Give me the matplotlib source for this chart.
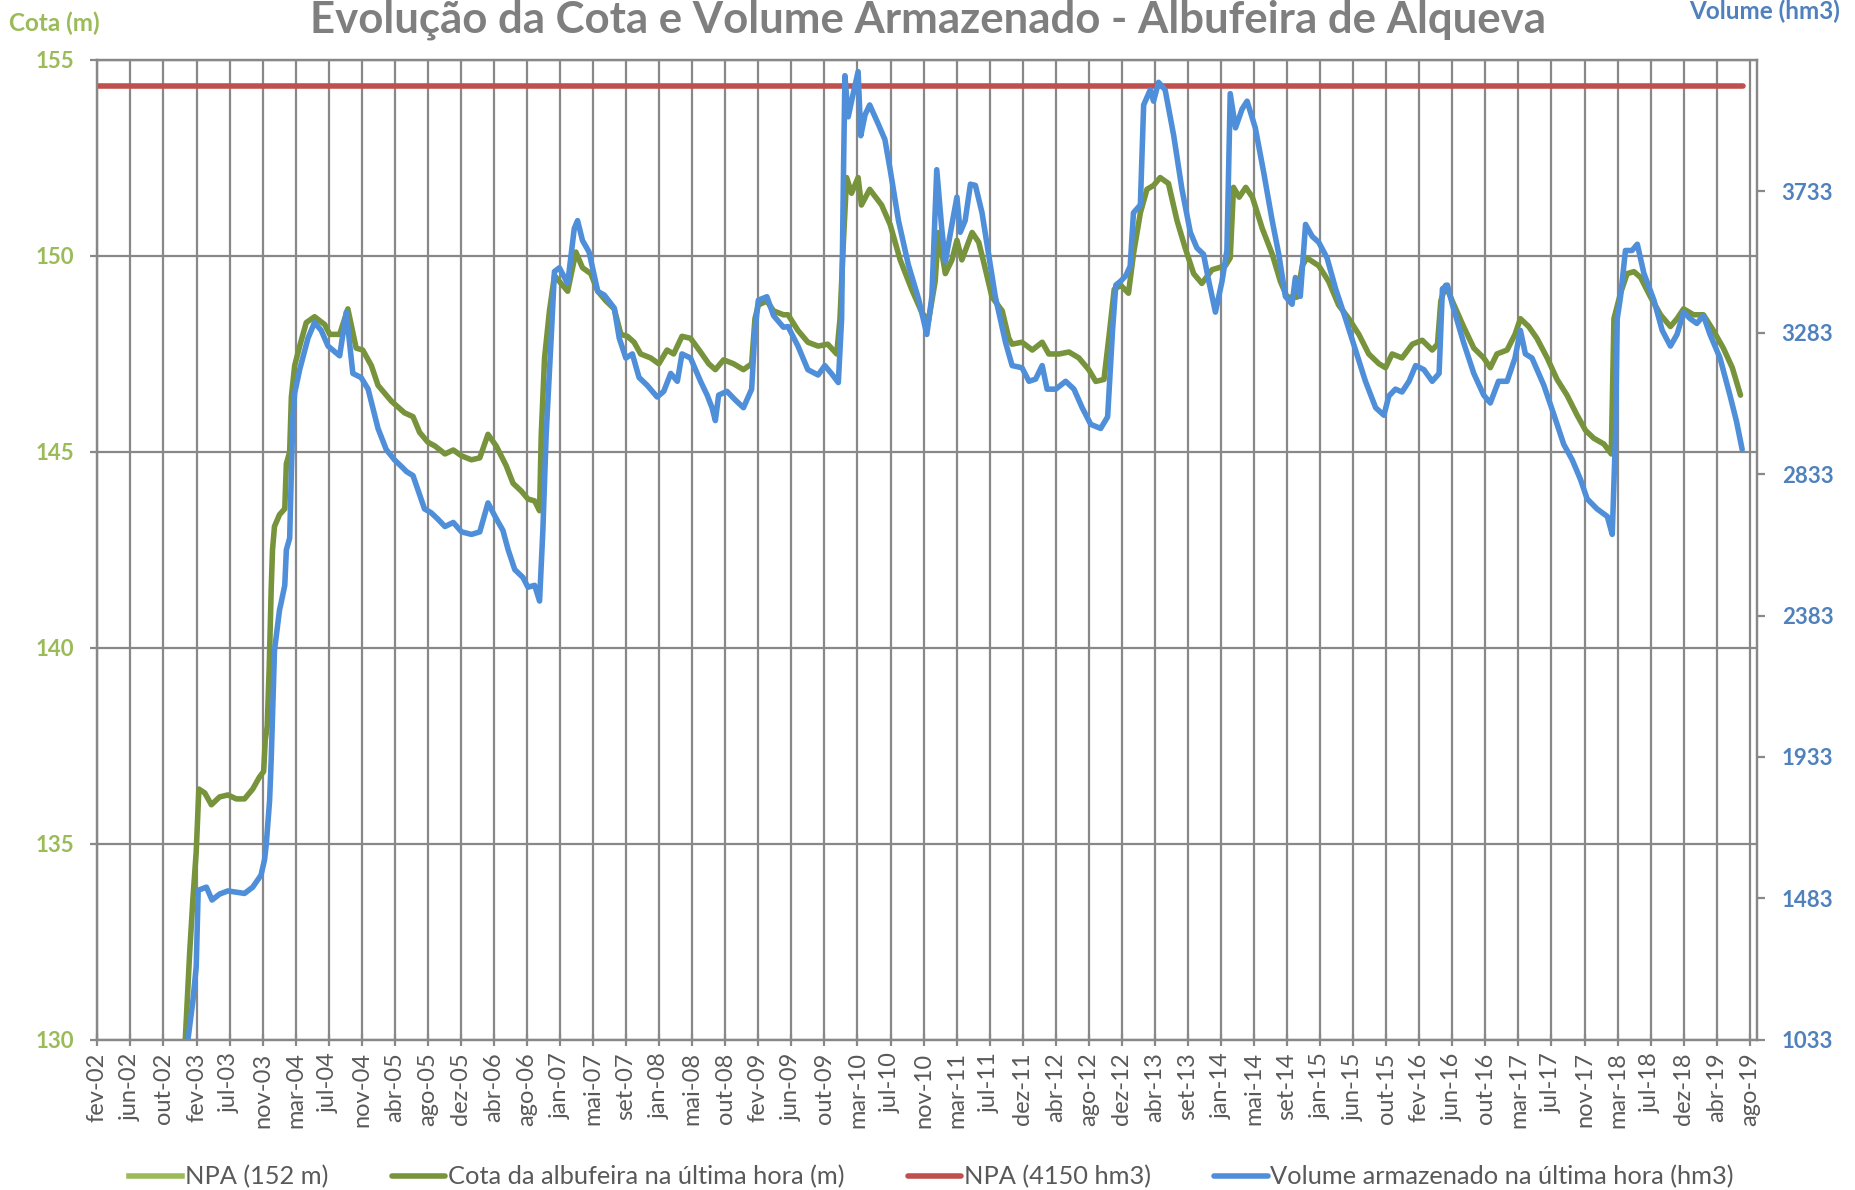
import matplotlib.pyplot as plt

# x values in decimal years (first record 2002-02-08; axis marks every 128 days)
tick_labels = ['fev-02', 'jun-02', 'out-02', 'fev-03', 'jul-03', 'nov-03', 'mar-04', 'jul-04',
               'nov-04', 'abr-05', 'ago-05', 'dez-05', 'abr-06', 'ago-06', 'jan-07', 'mai-07',
               'set-07', 'jan-08', 'mai-08', 'out-08', 'fev-09', 'jun-09', 'out-09', 'mar-10',
               'jul-10', 'nov-10', 'mar-11', 'jul-11', 'dez-11', 'abr-12', 'ago-12', 'dez-12',
               'abr-13', 'set-13', 'jan-14', 'mai-14', 'set-14', 'jan-15', 'jun-15', 'out-15',
               'fev-16', 'jun-16', 'out-16', 'mar-17', 'jul-17', 'nov-17', 'mar-18', 'jul-18',
               'dez-18', 'abr-19', 'ago-19']
tick_start = 2002.104
tick_step = 128 / 365.25

cota_x = [2003.036, 2003.082, 2003.117, 2003.152, 2003.180, 2003.243, 2003.313, 2003.400, 2003.488,
          2003.576, 2003.664, 2003.751, 2003.821, 2003.867, 2003.884, 2003.905, 2003.926, 2003.947,
          2003.961, 2003.982, 2004.035, 2004.091, 2004.108, 2004.143, 2004.161, 2004.196, 2004.249,
          2004.319, 2004.407, 2004.515, 2004.568, 2004.673, 2004.760, 2004.848, 2004.918, 2005.010,
          2005.080, 2005.220, 2005.360, 2005.451, 2005.521, 2005.608, 2005.685, 2005.790, 2005.878,
          2005.966, 2006.071, 2006.159, 2006.246, 2006.334, 2006.439, 2006.512, 2006.600, 2006.670,
          2006.741, 2006.793, 2006.811, 2006.846, 2006.898, 2006.951, 2007.021, 2007.091, 2007.178,
          2007.248, 2007.336, 2007.410, 2007.498, 2007.585, 2007.655, 2007.725, 2007.795, 2007.865,
          2007.970, 2008.058, 2008.145, 2008.215, 2008.303, 2008.394, 2008.500, 2008.587, 2008.657,
          2008.745, 2008.850, 2008.955, 2009.042, 2009.077, 2009.113, 2009.204, 2009.274, 2009.379,
          2009.428, 2009.533, 2009.638, 2009.747, 2009.849, 2009.944, 2009.979, 2010.014, 2010.049,
          2010.101, 2010.171, 2010.206, 2010.294, 2010.420, 2010.511, 2010.617, 2010.739, 2010.848,
          2010.918, 2010.988, 2011.023, 2011.096, 2011.166, 2011.219, 2011.271, 2011.380, 2011.450,
          2011.502, 2011.591, 2011.699, 2011.769, 2011.804, 2011.909, 2012.018, 2012.123, 2012.193,
          2012.302, 2012.407, 2012.512, 2012.617, 2012.691, 2012.778, 2012.834, 2012.887, 2012.957,
          2013.038, 2013.091, 2013.164, 2013.234, 2013.304, 2013.374, 2013.462, 2013.553, 2013.640,
          2013.729, 2013.816, 2013.925, 2014.065, 2014.117, 2014.152, 2014.212, 2014.282, 2014.352,
          2014.457, 2014.562, 2014.649, 2014.720, 2014.825, 2014.881, 2014.930, 2015.056, 2015.161,
          2015.266, 2015.375, 2015.481, 2015.586, 2015.694, 2015.764, 2015.834, 2015.939, 2016.048,
          2016.153, 2016.259, 2016.315, 2016.350, 2016.402, 2016.472, 2016.591, 2016.700, 2016.805,
          2016.875, 2016.945, 2017.053, 2017.137, 2017.194, 2017.282, 2017.369, 2017.478, 2017.583,
          2017.688, 2017.793, 2017.885, 2017.972, 2018.081, 2018.158, 2018.186, 2018.256, 2018.326,
          2018.399, 2018.469, 2018.575, 2018.680, 2018.785, 2018.855, 2018.925, 2019.030, 2019.135,
          2019.240, 2019.346, 2019.441, 2019.528]
cota_m = [130.0, 132.2, 133.6, 134.8, 136.4, 136.3, 136.0, 136.2, 136.25,
          136.15, 136.15, 136.4, 136.7, 136.85, 137.65, 138.0, 139.5, 141.5,
          142.5, 143.1, 143.4, 143.55, 144.7, 145.0, 146.4, 147.2, 147.7,
          148.3, 148.45, 148.25, 148.0, 148.0, 148.65, 147.65, 147.6, 147.2,
          146.7, 146.3, 146.0, 145.9, 145.5, 145.25, 145.15, 144.95, 145.05,
          144.9, 144.8, 144.85, 145.45, 145.15, 144.65, 144.2, 144.0, 143.8,
          143.75, 143.5, 145.45, 147.4, 148.6, 149.5, 149.3, 149.1, 150.1,
          149.7, 149.55, 149.1, 148.85, 148.65, 148.0, 147.95, 147.8, 147.5,
          147.4, 147.25, 147.6, 147.5, 147.95, 147.9, 147.55, 147.25, 147.1,
          147.35, 147.25, 147.1, 147.25, 148.4, 148.75, 148.85, 148.6, 148.5,
          148.5, 148.1, 147.8, 147.7, 147.75, 147.5, 148.4, 150.3, 152.0,
          151.6, 152.0, 151.3, 151.7, 151.3, 150.8, 149.9, 149.15, 148.55,
          148.35, 149.35, 150.6, 149.55, 149.9, 150.4, 149.9, 150.6, 150.35,
          149.85, 148.95, 148.6, 147.9, 147.75, 147.8, 147.6, 147.8, 147.5,
          147.5, 147.55, 147.4, 147.1, 146.8, 146.85, 148.0, 149.15, 149.25,
          149.05, 150.05, 151.1, 151.7, 151.8, 152.0, 151.85, 150.9, 150.2,
          149.55, 149.3, 149.65, 149.75, 149.95, 151.75, 151.5, 151.75, 151.5,
          150.7, 150.05, 149.35, 148.95, 148.95, 149.75, 149.95, 149.75, 149.35,
          148.75, 148.4, 148.0, 147.5, 147.25, 147.15, 147.5, 147.4, 147.75,
          147.85, 147.6, 147.75, 148.85, 149.25, 148.85, 148.2, 147.65, 147.4,
          147.15, 147.5, 147.6, 148.0, 148.4, 148.2, 147.9, 147.4, 146.85,
          146.45, 145.95, 145.55, 145.35, 145.2, 144.95, 148.4, 149.05, 149.55,
          149.6, 149.45, 148.95, 148.5, 148.2, 148.4, 148.65, 148.5, 148.5,
          148.1, 147.65, 147.15, 146.45]

vol_x = [2003.064, 2003.117, 2003.152, 2003.173, 2003.260, 2003.320, 2003.400, 2003.488, 2003.664,
         2003.751, 2003.839, 2003.877, 2003.895, 2003.930, 2003.947, 2003.982, 2004.035, 2004.052,
         2004.091, 2004.108, 2004.143, 2004.161, 2004.178, 2004.196, 2004.249, 2004.337, 2004.407,
         2004.477, 2004.550, 2004.673, 2004.743, 2004.813, 2004.900, 2004.975, 2005.080, 2005.167,
         2005.255, 2005.342, 2005.381, 2005.451, 2005.573, 2005.643, 2005.713, 2005.790, 2005.878,
         2005.966, 2006.071, 2006.159, 2006.246, 2006.334, 2006.404, 2006.460, 2006.530, 2006.617,
         2006.670, 2006.741, 2006.793, 2006.828, 2006.863, 2006.916, 2006.951, 2007.003, 2007.091,
         2007.161, 2007.196, 2007.248, 2007.318, 2007.410, 2007.480, 2007.585, 2007.638, 2007.708,
         2007.777, 2007.848, 2007.935, 2008.040, 2008.110, 2008.184, 2008.254, 2008.303, 2008.394,
         2008.500, 2008.570, 2008.622, 2008.657, 2008.692, 2008.780, 2008.867, 2008.955, 2009.042,
         2009.077, 2009.113, 2009.204, 2009.274, 2009.379, 2009.428, 2009.533, 2009.638, 2009.747,
         2009.818, 2009.887, 2009.961, 2009.996, 2010.014, 2010.031, 2010.066, 2010.119, 2010.171,
         2010.199, 2010.245, 2010.294, 2010.385, 2010.455, 2010.511, 2010.599, 2010.704, 2010.813,
         2010.900, 2010.953, 2011.005, 2011.058, 2011.096, 2011.166, 2011.219, 2011.254, 2011.306,
         2011.362, 2011.415, 2011.485, 2011.555, 2011.626, 2011.734, 2011.804, 2011.909, 2011.983,
         2012.053, 2012.123, 2012.175, 2012.267, 2012.372, 2012.460, 2012.547, 2012.638, 2012.743,
         2012.817, 2012.834, 2012.869, 2012.904, 2012.957, 2013.010, 2013.056, 2013.091, 2013.164,
         2013.199, 2013.269, 2013.304, 2013.357, 2013.427, 2013.518, 2013.605, 2013.694, 2013.764,
         2013.834, 2013.890, 2013.960, 2014.030, 2014.082, 2014.117, 2014.173, 2014.243, 2014.296,
         2014.383, 2014.474, 2014.562, 2014.632, 2014.702, 2014.773, 2014.808, 2014.860, 2014.916,
         2014.986, 2015.056, 2015.144, 2015.235, 2015.340, 2015.446, 2015.551, 2015.659, 2015.747,
         2015.799, 2015.869, 2015.939, 2016.013, 2016.083, 2016.171, 2016.259, 2016.332, 2016.367,
         2016.420, 2016.472, 2016.591, 2016.700, 2016.805, 2016.875, 2016.962, 2017.053, 2017.137,
         2017.194, 2017.247, 2017.317, 2017.443, 2017.548, 2017.653, 2017.744, 2017.831, 2017.902,
         2018.007, 2018.116, 2018.168, 2018.203, 2018.221, 2018.256, 2018.308, 2018.378, 2018.434,
         2018.504, 2018.610, 2018.698, 2018.785, 2018.855, 2018.925, 2018.995, 2019.065, 2019.135,
         2019.205, 2019.311, 2019.416, 2019.486, 2019.546]
vol_hm3 = [1033, 1158, 1266, 1509, 1519, 1478, 1497, 1507, 1499,
           1519, 1557, 1607, 1656, 1794, 1923, 2272, 2400, 2423,
           2479, 2592, 2629, 2841, 3015, 3090, 3165, 3265, 3315,
           3290, 3240, 3209, 3348, 3153, 3140, 3103, 2978, 2911,
           2878, 2853, 2841, 2828, 2722, 2710, 2690, 2666, 2679,
           2649, 2641, 2649, 2741, 2691, 2654, 2592, 2529, 2504,
           2473, 2479, 2429, 2654, 2959, 3265, 3477, 3489, 3439,
           3614, 3639, 3576, 3539, 3414, 3402, 3361, 3265, 3202,
           3215, 3140, 3115, 3078, 3096, 3153, 3128, 3215, 3202,
           3128, 3084, 3044, 3003, 3084, 3096, 3069, 3044, 3103,
           3290, 3386, 3397, 3337, 3300, 3302, 3240, 3165, 3148,
           3178, 3153, 3124, 3327, 3751, 4100, 3969, 4043, 4113,
           3909, 3976, 4007, 3946, 3897, 3801, 3639, 3498, 3389,
           3277, 3397, 3801, 3614, 3508, 3627, 3714, 3602, 3639,
           3755, 3751, 3664, 3532, 3397, 3252, 3178, 3171, 3128,
           3135, 3178, 3103, 3103, 3128, 3103, 3044, 2991, 2978,
           3015, 3103, 3290, 3434, 3447, 3464, 3494, 3664, 3689,
           4007, 4055, 4019, 4079, 4055, 3909, 3739, 3602, 3552,
           3532, 3446, 3348, 3446, 3544, 4043, 3934, 3994, 4019,
           3934, 3789, 3639, 3532, 3398, 3373, 3458, 3398, 3627,
           3589, 3570, 3520, 3422, 3327, 3227, 3128, 3044, 3020,
           3081, 3103, 3094, 3128, 3178, 3165, 3128, 3153, 3422,
           3434, 3373, 3252, 3153, 3084, 3059, 3128, 3128, 3202,
           3290, 3215, 3202, 3115, 3023, 2928, 2878, 2816, 2754,
           2722, 2698, 2641, 2959, 3327, 3397, 3544, 3544, 3564,
           3471, 3386, 3290, 3240, 3277, 3348, 3327, 3312, 3337,
           3277, 3202, 3084, 3000, 2911]

npa_x = [2002.104, 2019.556]
npa_vol = [4068, 4068]

cota_ticks = [130, 135, 140, 145, 150, 155]
vol_ticks = [1033, 1483, 1933, 2383, 2833, 3283, 3733]

FONT = ['Lato', 'DejaVu Sans']
plt.rcParams['font.family'] = FONT

C_NPA_M = '#9bbb59'
C_COTA = '#77933c'
C_NPA_V = '#c0504d'
C_VOL = '#4f8fd9'
C_VOL_TXT = '#4f81bd'
GRID = '#888888'
TXT = '#595959'

fig = plt.figure(figsize=(18.55, 11.9), dpi=100)
ax = fig.add_axes([0.0525, 0.1261, 0.8945, 0.8235])
ax2 = ax.twinx()

l_npa_m, = ax.plot([], [], color=C_NPA_M, lw=4.0, label='NPA (152 m)')
l_cota, = ax.plot(cota_x, cota_m, color=C_COTA, lw=4.0, solid_joinstyle='round',
                  solid_capstyle='round', label='Cota da albufeira na última hora (m)')
l_npa_v, = ax2.plot(npa_x, npa_vol, color=C_NPA_V, lw=4.0, solid_capstyle='round',
                    label='NPA (4150 hm3)')
l_vol, = ax2.plot(vol_x, vol_hm3, color=C_VOL, lw=4.0, solid_joinstyle='round',
                  solid_capstyle='round', label='Volume armazenado na última hora (hm3)')

xticks = [tick_start + k * tick_step for k in range(len(tick_labels))]
ax.set_xlim(tick_start, tick_start + 50.21 * tick_step)
ax.set_xticks(xticks)
ax.set_xticklabels(tick_labels, rotation=90, fontsize=17, color=TXT)
ax.tick_params(axis='x', direction='inout', length=8, width=1.6, color=GRID, pad=5)

ax.set_ylim(130, 155)
ax.set_yticks(cota_ticks)
ax.set_yticklabels([str(v) for v in cota_ticks], fontweight='bold')
ax.tick_params(axis='y', direction='out', length=5, width=1.6, color=GRID,
               labelsize=16, labelcolor=C_NPA_M, pad=12)

ax2.set_ylim(1033, 4150)
ax2.set_yticks(vol_ticks)
ax2.set_yticklabels([str(v) for v in vol_ticks], fontweight='bold')
ax2.tick_params(axis='y', direction='out', length=6, width=1.6, color=GRID,
                labelsize=16, labelcolor=C_VOL_TXT, pad=12)

ax.grid(True, color=GRID, lw=1.6)
ax.set_axisbelow(True)
for a in (ax, ax2):
    for s in a.spines.values():
        s.set_color(GRID)
        s.set_linewidth(1.6)

fig.text(0.5, 1 - 32 / 1190, 'Evolução da Cota e Volume Armazenado - Albufeira de Alqueva',
         ha='center', va='baseline', fontsize=31.5, fontweight='bold', color='#7f7f7f')
fig.text(9 / 1855, 1 - 23 / 1190, 'Cota (m)', ha='left', va='center', fontsize=17.5,
         fontweight='bold', color=C_NPA_M)
fig.text(1840 / 1855, 1 - 11 / 1190, 'Volume (hm3)', ha='right', va='center', fontsize=17.5,
         fontweight='bold', color=C_VOL_TXT)

fig.legend(handles=[l_npa_m, l_cota, l_npa_v, l_vol], loc='center',
           bbox_to_anchor=(0.502, 1 - 1177 / 1190), ncol=4, frameon=False,
           fontsize=18.3, labelcolor=TXT, handlelength=2.1, handletextpad=0.1,
           columnspacing=2.5)

fig.savefig('out.png', dpi=100)
